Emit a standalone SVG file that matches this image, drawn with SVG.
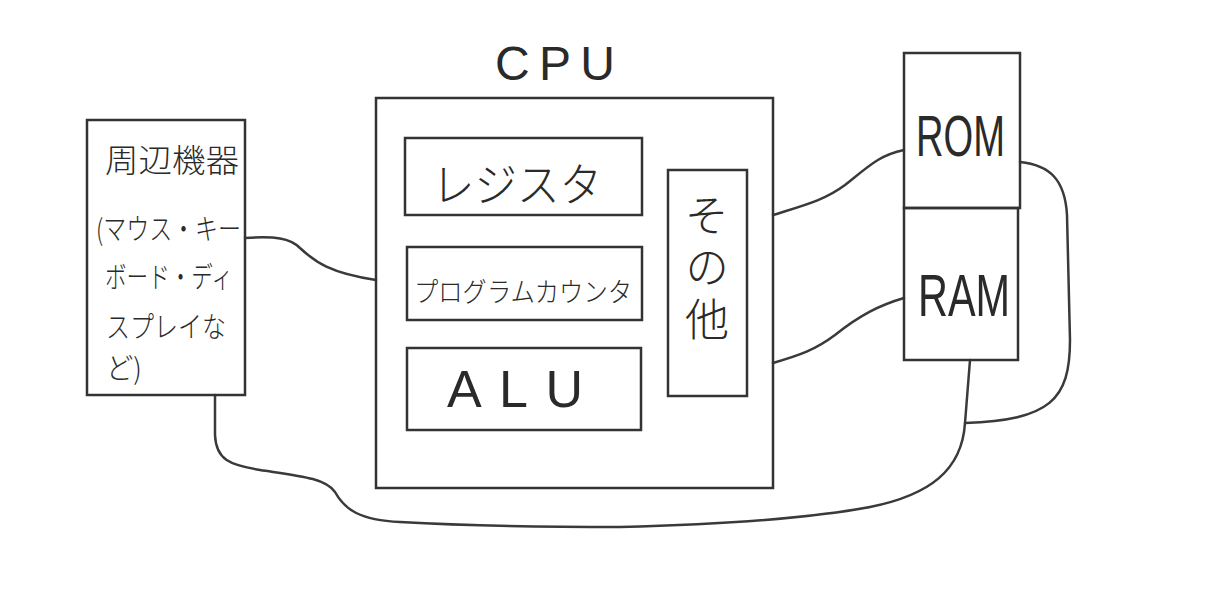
<svg xmlns="http://www.w3.org/2000/svg" width="1208" height="605" viewBox="0 0 1208 605">
<style>
.box{fill:none;stroke:#333;stroke-width:2.5}
.wire{fill:none;stroke:#3a3a3a;stroke-width:2.5;stroke-linecap:round;stroke-linejoin:round}
.jp{font-family:"Noto Sans CJK JP","Noto Sans",sans-serif;fill:#2a2a2a;font-weight:300}
.lat{font-family:"Liberation Sans","DejaVu Sans",sans-serif;fill:#2a2a2a}
</style>
<rect x="0" y="0" width="1208" height="605" fill="#ffffff"/>
<g id="connectors">
<path class="wire" d="M245,238 C275,236 290,238 300,248 C315,262 330,273 376,280"/>
<path class="wire" d="M773,215 C805,205 825,200 845,185 C870,165 880,155 904,150"/>
<path class="wire" d="M773,363 C800,355 815,350 835,335 C860,315 880,305 904,298"/>
<path class="wire" d="M1020,162 C1050,165 1065,180 1067,215 L1070,340 C1070,400 1050,420 965,423"/>
<path class="wire" d="M970,360 L965,423 C962,470 930,495 870,507 C800,520 700,525 620,527 C550,527 470,526 400,522 C360,520 345,510 335,492 C325,478 300,476 260,470 C230,465 216,460 215,435 L215,395"/>
</g>
<g id="peripherals">
<rect class="box" x="87" y="120" width="158" height="275"/>
<text class="jp" x="105" y="172" font-size="32" textLength="134" lengthAdjust="spacingAndGlyphs">周辺機器</text>
<text class="jp" x="96" y="240" font-size="29" textLength="145" lengthAdjust="spacingAndGlyphs">(マウス・キー</text>
<text class="jp" x="105" y="288" font-size="29" textLength="128" lengthAdjust="spacingAndGlyphs">ボード・ディ</text>
<text class="jp" x="106" y="338" font-size="29" textLength="120" lengthAdjust="spacingAndGlyphs">スプレイな</text>
<text class="jp" x="106" y="379" font-size="29" textLength="36" lengthAdjust="spacingAndGlyphs">ど)</text>
</g>
<g id="cpu">
<rect class="box" x="376" y="98" width="397" height="390"/>
<text class="lat" x="495" y="80" font-size="48" textLength="120" lengthAdjust="spacing">CPU</text>
</g>
<g id="register">
<rect class="box" x="405" y="138" width="237" height="77"/>
<text class="jp" x="432" y="201" font-size="46" textLength="170" lengthAdjust="spacingAndGlyphs">レジスタ</text>
</g>
<g id="program-counter">
<rect class="box" x="407" y="247" width="235" height="73"/>
<text class="jp" x="414" y="302" font-size="27" textLength="218" lengthAdjust="spacingAndGlyphs">プログラムカウンタ</text>
</g>
<g id="alu">
<rect class="box" x="407" y="348" width="234" height="82"/>
<text class="lat" x="447" y="407" font-size="52" textLength="136" lengthAdjust="spacing">ALU</text>
</g>
<g id="other">
<rect class="box" x="668" y="170" width="79" height="226"/>
<text class="jp" x="707" y="193" font-size="44" writing-mode="vertical-rl" letter-spacing="8">その他</text>
</g>
<g id="rom">
<rect class="box" x="904" y="53" width="116" height="155"/>
<text class="lat" x="916" y="156" font-size="58" textLength="89" lengthAdjust="spacingAndGlyphs">ROM</text>
</g>
<g id="ram">
<rect class="box" x="904" y="208" width="114" height="152"/>
<text class="lat" x="918" y="316" font-size="60" textLength="92" lengthAdjust="spacingAndGlyphs">RAM</text>
</g>
</svg>
